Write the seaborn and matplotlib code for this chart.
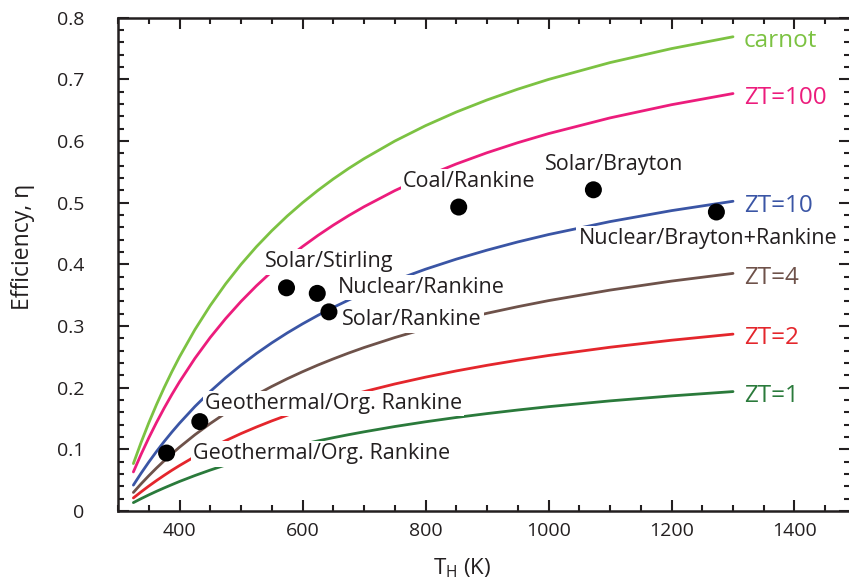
import matplotlib
matplotlib.use("Agg")
import matplotlib.pyplot as plt
from matplotlib.ticker import MultipleLocator, FixedLocator, FixedFormatter
import pandas as pd
import seaborn as sns

# Hot-side temperature grid (K), cold side at 300 K
t_hot = [325, 337.5, 350, 362.5, 375, 387.5, 400, 425, 450, 475, 500, 525, 550, 575,
         600, 625, 650, 675, 700, 750, 800, 850, 900, 950, 1000, 1100, 1200, 1300]

eta_carnot = [0.0769, 0.1111, 0.1429, 0.1724, 0.2000, 0.2258, 0.2500, 0.2941, 0.3333, 0.3684,
              0.4000, 0.4286, 0.4545, 0.4783, 0.5000, 0.5200, 0.5385, 0.5556, 0.5714, 0.6000,
              0.6250, 0.6471, 0.6667, 0.6842, 0.7000, 0.7273, 0.7500, 0.7692]
eta_zt100 = [0.0634, 0.0919, 0.1185, 0.1434, 0.1668, 0.1888, 0.2095, 0.2475, 0.2815, 0.3121,
             0.3399, 0.3652, 0.3883, 0.4094, 0.4289, 0.4469, 0.4636, 0.4791, 0.4935, 0.5196,
             0.5426, 0.5629, 0.5811, 0.5974, 0.6121, 0.6376, 0.6590, 0.6771]
eta_zt10 = [0.0420, 0.0612, 0.0793, 0.0964, 0.1126, 0.1279, 0.1424, 0.1694, 0.1939, 0.2162,
            0.2366, 0.2554, 0.2727, 0.2887, 0.3035, 0.3173, 0.3302, 0.3422, 0.3535, 0.3740,
            0.3922, 0.4085, 0.4231, 0.4364, 0.4484, 0.4694, 0.4872, 0.5024]
eta_zt4 = [0.0301, 0.0440, 0.0571, 0.0696, 0.0814, 0.0927, 0.1035, 0.1236, 0.1419, 0.1588,
           0.1743, 0.1887, 0.2020, 0.2144, 0.2259, 0.2367, 0.2467, 0.2562, 0.2651, 0.2813,
           0.2959, 0.3089, 0.3207, 0.3314, 0.3412, 0.3583, 0.3729, 0.3854]
eta_zt2 = [0.0212, 0.0310, 0.0404, 0.0493, 0.0578, 0.0660, 0.0737, 0.0883, 0.1017, 0.1141,
           0.1256, 0.1362, 0.1461, 0.1553, 0.1640, 0.1721, 0.1797, 0.1869, 0.1936, 0.2060,
           0.2171, 0.2272, 0.2363, 0.2446, 0.2522, 0.2656, 0.2770, 0.2869]
eta_zt1 = [0.0136, 0.0200, 0.0261, 0.0319, 0.0374, 0.0427, 0.0479, 0.0575, 0.0664, 0.0746,
           0.0823, 0.0894, 0.0961, 0.1023, 0.1082, 0.1137, 0.1189, 0.1238, 0.1284, 0.1370,
           0.1447, 0.1517, 0.1580, 0.1638, 0.1692, 0.1786, 0.1867, 0.1937]

curve_names = ["carnot", "ZT=100", "ZT=10", "ZT=4", "ZT=2", "ZT=1"]
curve_values = [eta_carnot, eta_zt100, eta_zt10, eta_zt4, eta_zt2, eta_zt1]
curve_colors = ["#7cc242", "#ec1c7c", "#3a55a5", "#6e524a", "#e4262c", "#2a7a3b"]

# Existing power-generation technologies
plant_names = ["Geothermal/Org. Rankine", "Geothermal/Org. Rankine", "Solar/Stirling",
               "Nuclear/Rankine", "Solar/Rankine", "Coal/Rankine", "Solar/Brayton",
               "Nuclear/Brayton+Rankine"]
plant_temp = [379, 433, 574, 624, 643, 854, 1073, 1273]
plant_eta = [0.094, 0.145, 0.362, 0.353, 0.323, 0.493, 0.521, 0.485]
# Text anchor (left edge, vertical centre) for each technology label
label_x = [422, 441, 539, 657, 664, 763, 995, 1049]
label_y = [0.0925, 0.174, 0.404, 0.362, 0.310, 0.534, 0.562, 0.4416]

font = ["Open Sans", "DejaVu Sans"]
sns.set_theme(style="ticks")
plt.rcParams["font.family"] = font
plt.rcParams["mathtext.default"] = "regular"

curves = pd.DataFrame({
    "T": t_hot * len(curve_names),
    "eta": [v for vals in curve_values for v in vals],
    "curve": [n for n in curve_names for _ in t_hot],
})
points = pd.DataFrame({"T": plant_temp, "eta": plant_eta})

fig = plt.figure(figsize=(8.49, 5.83), dpi=100)
ax = fig.add_axes([0.139, 0.1235, 0.862, 0.846])

sns.lineplot(data=curves, x="T", y="eta", hue="curve", hue_order=curve_names,
             palette=curve_colors, linewidth=2.0, legend=False, ax=ax, zorder=2)

for name, vals, col in zip(curve_names, curve_values, curve_colors):
    ax.text(1318, vals[-1] - 0.007, name, color=col, fontsize=17.5,
            ha="left", va="center", zorder=5)

for name, x, y in zip(plant_names, label_x, label_y):
    ax.text(x, y, name, color="#231f20", fontsize=15.5, ha="left", va="center",
            zorder=3, bbox=dict(boxstyle="square,pad=0.1", fc="white", ec="none"))

sns.scatterplot(data=points, x="T", y="eta", color="black", s=150,
                edgecolor="none", ax=ax, zorder=6)

ax.set_xlim(300, 1490)
ax.set_ylim(0, 0.8)
ax.xaxis.set_major_locator(FixedLocator([400, 600, 800, 1000, 1200, 1400]))
ax.xaxis.set_minor_locator(MultipleLocator(50))
yt = [0, 0.1, 0.2, 0.3, 0.4, 0.5, 0.6, 0.7, 0.8]
ax.yaxis.set_major_locator(FixedLocator(yt))
ax.yaxis.set_major_formatter(FixedFormatter(["0", "0.1", "0.2", "0.3", "0.4",
                                             "0.5", "0.6", "0.7", "0.8"]))
ax.yaxis.set_minor_locator(MultipleLocator(0.02))

ax.tick_params(which="both", direction="in", top=True, right=True,
               labelsize=14, colors="#231f20", width=1.5)
ax.tick_params(which="major", length=8)
ax.tick_params(which="minor", length=4.5)
ax.tick_params(axis="y", which="major", pad=24)
ax.tick_params(axis="x", which="major", pad=8)
for side in ax.spines.values():
    side.set_linewidth(1.8)
    side.set_color("#231f20")

ax.set_xlabel("T$_H$ (K)", fontsize=16, color="#231f20", va="top")
ax.xaxis.set_label_coords(0.4706, -0.093)
ax.set_ylabel("Efficiency, η", fontsize=16.5, color="#231f20")
ax.yaxis.set_label_coords(-0.114, 0.535)

fig.savefig("out.png", dpi=100)
